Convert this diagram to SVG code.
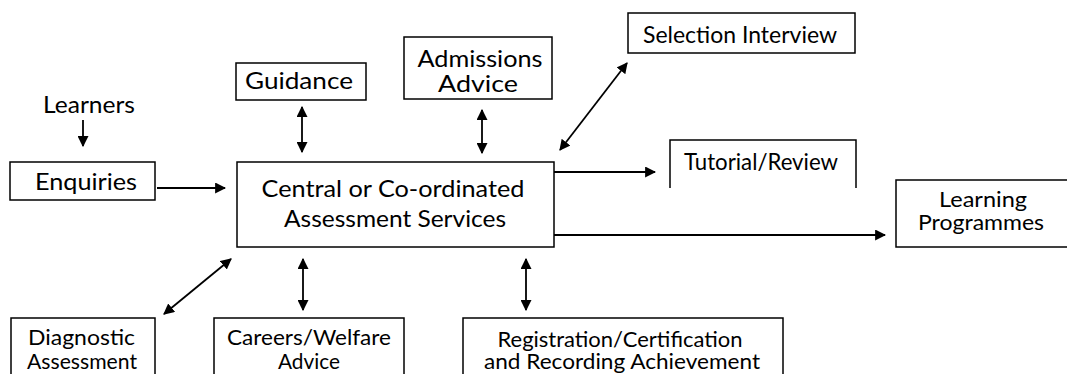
<svg xmlns="http://www.w3.org/2000/svg" width="1067" height="374" viewBox="0 0 1067 374">
<defs>
<style>
.b{fill:#fff;stroke:#000;stroke-width:1.5}
.t{font-family:Lato,"Open Sans",sans-serif;font-size:23px;fill:#000;text-anchor:middle}
.s{font-size:22px}
.c{stroke:#000;stroke-width:1.8;fill:none}
</style>
<marker id="ah" viewBox="0 0 10 10" refX="9" refY="5" markerWidth="11" markerHeight="11" markerUnits="userSpaceOnUse" orient="auto-start-reverse">
<path d="M0,0 L10,5 L0,10 z" fill="#000"/>
</marker>
</defs>
<rect width="1067" height="374" fill="#fff"/>
<g id="connectors">
<line class="c" x1="83" y1="120" x2="83" y2="146" marker-end="url(#ah)"/>
<line class="c" x1="157" y1="188" x2="225" y2="188" marker-end="url(#ah)"/>
<line class="c" x1="302" y1="107" x2="302" y2="152" marker-start="url(#ah)" marker-end="url(#ah)"/>
<line class="c" x1="482" y1="110" x2="482" y2="153" marker-start="url(#ah)" marker-end="url(#ah)"/>
<line class="c" x1="560" y1="150" x2="627" y2="63" marker-start="url(#ah)" marker-end="url(#ah)"/>
<line class="c" x1="554" y1="172" x2="655" y2="172" marker-end="url(#ah)"/>
<line class="c" x1="554" y1="235" x2="885" y2="235" marker-end="url(#ah)"/>
<line class="c" x1="231" y1="259" x2="164" y2="314" marker-start="url(#ah)" marker-end="url(#ah)"/>
<line class="c" x1="303" y1="259" x2="303" y2="310" marker-start="url(#ah)" marker-end="url(#ah)"/>
<line class="c" x1="526" y1="259" x2="526" y2="310" marker-start="url(#ah)" marker-end="url(#ah)"/>
</g>
<g id="learners"><text class="t" x="89" y="113" textLength="92" lengthAdjust="spacingAndGlyphs">Learners</text></g>
<g id="enquiries"><rect class="b" x="10" y="162" width="145" height="38"/><text class="t" x="86" y="190" textLength="102" lengthAdjust="spacingAndGlyphs">Enquiries</text></g>
<g id="central"><rect class="b" x="237" y="162" width="317" height="85"/><text class="t" x="393" y="197" textLength="263" lengthAdjust="spacingAndGlyphs">Central or Co-ordinated</text><text class="t" x="395" y="227" textLength="222" lengthAdjust="spacingAndGlyphs">Assessment Services</text></g>
<g id="guidance"><rect class="b" x="236" y="63" width="130" height="37"/><text class="t" x="299" y="89" textLength="108" lengthAdjust="spacingAndGlyphs">Guidance</text></g>
<g id="admissions"><rect class="b" x="404" y="37" width="148" height="62"/><text class="t" x="480" y="67" textLength="125" lengthAdjust="spacingAndGlyphs">Admissions</text><text class="t" x="478" y="92" textLength="80" lengthAdjust="spacingAndGlyphs">Advice</text></g>
<g id="selection"><rect class="b" x="628" y="13" width="227" height="40"/><text class="t" x="740" y="43" textLength="194" lengthAdjust="spacingAndGlyphs">Selection Interview</text></g>
<g id="tutorial"><path class="b" d="M670,188 L670,140 L856,140 L856,188" fill="none"/><text class="t" x="761" y="170" textLength="154" lengthAdjust="spacingAndGlyphs">Tutorial/Review</text></g>
<g id="learning"><rect class="b" x="896" y="180" width="180" height="67"/><text class="t s" x="983" y="207" textLength="88" lengthAdjust="spacingAndGlyphs">Learning</text><text class="t s" x="981" y="230" textLength="126" lengthAdjust="spacingAndGlyphs">Programmes</text></g>
<g id="diagnostic"><rect class="b" x="11" y="318" width="144" height="70"/><text class="t s" x="81.5" y="345" textLength="107" lengthAdjust="spacingAndGlyphs">Diagnostic</text><text class="t s" x="82" y="369" textLength="110" lengthAdjust="spacingAndGlyphs">Assessment</text></g>
<g id="careers"><rect class="b" x="214" y="318" width="190" height="70"/><text class="t s" x="309" y="345" textLength="164" lengthAdjust="spacingAndGlyphs">Careers/Welfare</text><text class="t s" x="309" y="369" textLength="62" lengthAdjust="spacingAndGlyphs">Advice</text></g>
<g id="registration"><rect class="b" x="463" y="318" width="320" height="70"/><text class="t s" x="620" y="347" textLength="245" lengthAdjust="spacingAndGlyphs">Registration/Certification</text><text class="t s" x="622" y="369" textLength="276" lengthAdjust="spacingAndGlyphs">and Recording Achievement</text></g>
</svg>
